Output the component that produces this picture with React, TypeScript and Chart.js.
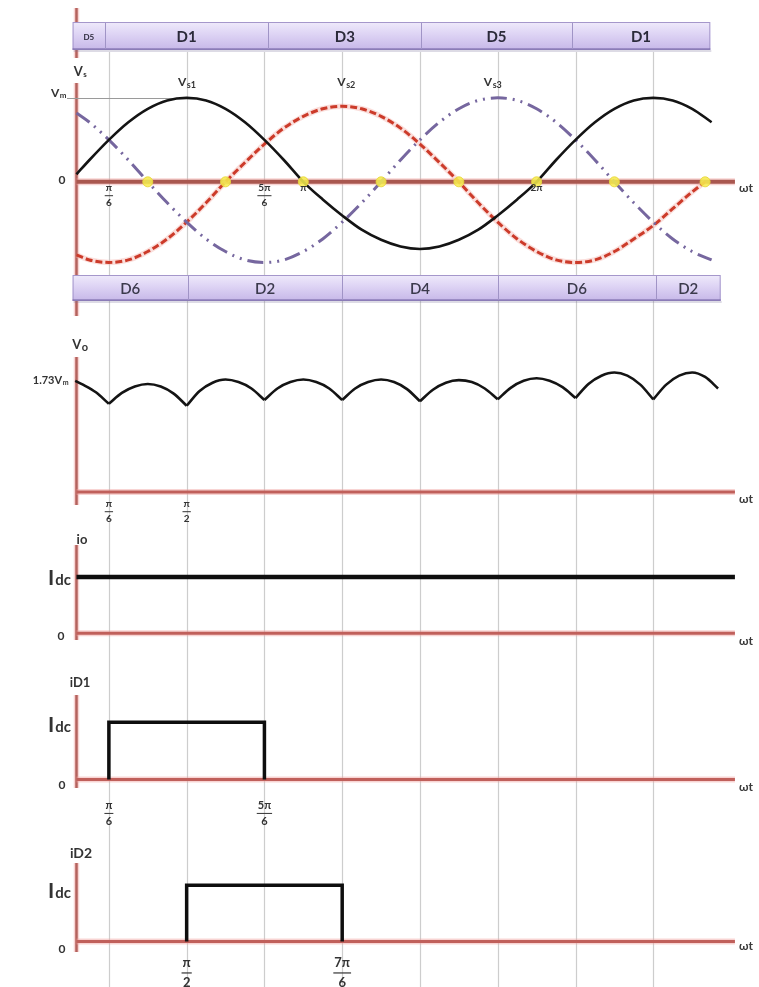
import { useEffect, useRef } from "react";
import { Chart, registerables } from "chart.js";

Chart.register(...registerables);

// ---- ωt sample points (degrees) and waveform values ----
const phaseAngles = [5, 15, 30, 45, 60, 75, 90, 105, 120, 135, 150, 165, 180, 195, 210, 225, 240, 255, 270, 285, 300, 315, 330, 345, 360, 375, 390, 405, 420, 435, 450, 465, 480, 495];
const vs1 = [0.09, 0.26, 0.5, 0.71, 0.87, 0.97, 1.0, 0.97, 0.87, 0.71, 0.5, 0.26, 0.0, -0.21, -0.4, -0.57, -0.69, -0.77, -0.8, -0.77, -0.69, -0.57, -0.4, -0.21, 0.0, 0.26, 0.5, 0.71, 0.87, 0.97, 1.0, 0.97, 0.87, 0.71];
const vs3 = [0.82, 0.71, 0.5, 0.26, 0.0, -0.25, -0.48, -0.68, -0.83, -0.93, -0.96, -0.93, -0.83, -0.68, -0.48, -0.25, 0.0, 0.26, 0.5, 0.71, 0.87, 0.97, 1.0, 0.97, 0.87, 0.71, 0.5, 0.26, 0.0, -0.25, -0.48, -0.68, -0.83, -0.93];
const vs2Angles = [5, 15, 30, 45, 60, 75, 90, 105, 120, 135, 150, 165, 180, 195, 210, 225, 240, 255, 270, 285, 300, 315, 330, 345, 360, 375, 390, 405, 420, 435, 450, 465, 480, 490];
const vs2 = [-0.87, -0.93, -0.96, -0.93, -0.83, -0.68, -0.48, -0.25, 0.0, 0.23, 0.45, 0.64, 0.78, 0.87, 0.9, 0.87, 0.78, 0.64, 0.45, 0.23, 0.0, -0.25, -0.48, -0.68, -0.83, -0.93, -0.96, -0.93, -0.83, -0.68, -0.52, -0.32, -0.12, 0.0];
const zeroCrossings = [60, 120, 180, 240, 300, 360, 420, 490];

// output voltage ripple (multiples of Vm); commutation dips split it into arches
const voAngles = [4, 10, 20, 30, 40, 50, 60, 70, 80, 90, 100, 110, 120, 130, 140, 150, 160, 170, 180, 190, 200, 210, 220, 230, 240, 250, 260, 270, 280, 290, 300, 310, 320, 330, 340, 350, 360, 370, 380, 390, 400, 410, 420, 430, 440, 450, 460, 470, 480, 490, 500];
const vo = [1.74, 1.68, 1.56, 1.38, 1.55, 1.65, 1.69, 1.65, 1.54, 1.35, 1.58, 1.71, 1.76, 1.72, 1.62, 1.44, 1.62, 1.72, 1.76, 1.72, 1.62, 1.44, 1.62, 1.72, 1.76, 1.72, 1.61, 1.42, 1.6, 1.71, 1.75, 1.72, 1.62, 1.45, 1.63, 1.74, 1.78, 1.74, 1.64, 1.47, 1.69, 1.82, 1.87, 1.82, 1.68, 1.45, 1.68, 1.82, 1.87, 1.8, 1.62];
const voDipAngles = [30, 90, 150, 210, 270, 330, 390, 450];

// currents (multiples of Idc)
const ioAngles = [5, 513];
const io = [1, 1];
const id1Angles = [30, 30, 150, 150];
const id1 = [0, 1, 1, 0];
const id2Angles = [90, 90, 210, 210];
const id2 = [0, 1, 1, 0];

// conduction bands and angle markers
const gridAngles = [30, 90, 150, 210, 270, 330, 390, 450];
const topBandEdges = [2, 27, 153, 271, 387, 494];
const topBandLabels = ["D5", "D1", "D3", "D5", "D1"];
const bottomBandEdges = [2, 91, 210, 330, 452, 502];
const bottomBandLabels = ["D6", "D2", "D4", "D6", "D2"];
const vsTickAngles = [30, 150, 180, 360];
const vsTickLabels = ["π/6", "5π/6", "π", "2π"];
const voTickAngles = [30, 90];
const voTickLabels = ["π/6", "π/2"];
const id1TickAngles = [30, 150];
const id1TickLabels = ["π/6", "5π/6"];
const id2TickAngles = [90, 210];
const id2TickLabels = ["π/2", "7π/6"];

const AXIS_ORIGIN = 5;
const AXIS_END = 513;

// ---- layout ----
const W = 759;
const H = 987;
const FONT = 'Lato, "Open Sans", "DejaVu Sans", sans-serif';
const INK = "#333";

const panels: Record<string, { zero: number; unit: number }> = {
  yVs: { zero: 178, unit: 85 },
  yVo: { zero: 492, unit: 64.7 },
  yIo: { zero: 635, unit: 57 },
  yD1: { zero: 783, unit: 58 },
  yD2: { zero: 947, unit: 57 },
};

const panelScale = (id: string) => ({
  type: "linear" as const,
  display: false,
  min: -(H - panels[id].zero) / panels[id].unit,
  max: panels[id].zero / panels[id].unit,
});

const pts = (xs: number[], ys: number[]) => xs.map((x, i) => ({ x, y: ys[i] }));

// split the ripple into arches so each dip stays a sharp corner
function voArches() {
  const all = pts(voAngles, vo);
  const arches: { x: number; y: number }[][] = [];
  let current: { x: number; y: number }[] = [];
  all.forEach((p) => {
    current.push(p);
    if (voDipAngles.includes(p.x)) {
      arches.push(current);
      current = [p];
    }
  });
  if (current.length > 1) arches.push(current);
  return arches;
}

function strokeLine(ctx: CanvasRenderingContext2D, x1: number, y1: number, x2: number, y2: number) {
  ctx.beginPath();
  ctx.moveTo(x1, y1);
  ctx.lineTo(x2, y2);
  ctx.stroke();
}

function axisLine(ctx: CanvasRenderingContext2D, x1: number, y1: number, x2: number, y2: number, width: number, core: string) {
  ctx.lineCap = "butt";
  ctx.strokeStyle = "rgba(240,160,158,0.45)";
  ctx.lineWidth = width + 3;
  strokeLine(ctx, x1, y1, x2, y2);
  ctx.strokeStyle = core;
  ctx.lineWidth = width;
  strokeLine(ctx, x1, y1, x2, y2);
}

function subText(ctx: CanvasRenderingContext2D, x: number, y: number, main: string, sub: string, size: number, align: "left" | "center" | "right" = "center", subScale = 0.65) {
  ctx.textBaseline = "middle";
  ctx.textAlign = "left";
  ctx.fillStyle = INK;
  const mainFont = `bold ${size}px ${FONT}`;
  const subFont = `bold ${Math.round(size * subScale)}px ${FONT}`;
  ctx.font = mainFont;
  const w1 = ctx.measureText(main).width;
  ctx.font = subFont;
  const w2 = ctx.measureText(sub).width;
  const start = align === "center" ? x - (w1 + w2) / 2 : align === "right" ? x - (w1 + w2) : x;
  ctx.font = mainFont;
  ctx.fillText(main, start, y);
  ctx.font = subFont;
  ctx.fillText(sub, start + w1 + 0.5, y + size * 0.22);
}

function plainText(ctx: CanvasRenderingContext2D, x: number, y: number, text: string, size: number, align: CanvasTextAlign = "center", weight = "bold") {
  ctx.font = `${weight} ${size}px ${FONT}`;
  ctx.textAlign = align;
  ctx.textBaseline = "middle";
  ctx.fillStyle = INK;
  ctx.fillText(text, x, y);
}

function fraction(ctx: CanvasRenderingContext2D, x: number, cy: number, label: string, size: number) {
  const [num, den] = label.split("/");
  ctx.font = `bold ${size}px ${FONT}`;
  ctx.textAlign = "center";
  ctx.textBaseline = "middle";
  ctx.fillStyle = INK;
  ctx.fillText(num, x, cy);
  if (den) {
    const w = Math.max(ctx.measureText(num).width, ctx.measureText(den).width) + 2;
    ctx.fillRect(x - w / 2, cy + size * 0.72, w, Math.max(1, size / 11));
    ctx.fillText(den, x, cy + size * 1.5);
  }
}

function idcLabel(ctx: CanvasRenderingContext2D, right: number, cy: number) {
  ctx.textBaseline = "middle";
  ctx.textAlign = "left";
  ctx.fillStyle = INK;
  ctx.font = `bold 15px ${FONT}`;
  const wd = ctx.measureText("dc").width;
  ctx.font = `bold 21px ${FONT}`;
  const wi = ctx.measureText("I").width;
  const start = right - wd - wi - 1;
  ctx.fillText("I", start, cy);
  ctx.font = `bold 15px ${FONT}`;
  ctx.fillText("dc", start + wi + 1, cy + 2);
}

function band(ctx: CanvasRenderingContext2D, xs: any, edges: number[], labels: string[], top: number, bottom: number, heavy: boolean) {
  const left = xs.getPixelForValue(edges[0]);
  const right = xs.getPixelForValue(edges[edges.length - 1]);
  ctx.fillStyle = "rgba(120,110,150,0.25)";
  ctx.fillRect(left + 1, bottom, right - left, 2);
  const g = ctx.createLinearGradient(0, top, 0, bottom);
  g.addColorStop(0, "#efeafb");
  g.addColorStop(0.45, "#ddd3f4");
  g.addColorStop(1, "#c6b7e8");
  ctx.fillStyle = g;
  ctx.fillRect(left, top, right - left, bottom - top);
  ctx.strokeStyle = "#a597cb";
  ctx.lineWidth = 1;
  ctx.strokeRect(left + 0.5, top + 0.5, right - left - 1, bottom - top - 1);
  ctx.fillStyle = "rgba(118,102,168,0.55)";
  ctx.fillRect(left, bottom - 2, right - left, 2);
  ctx.strokeStyle = "#a094c6";
  for (let i = 1; i < edges.length - 1; i++) {
    const px = Math.round(xs.getPixelForValue(edges[i])) + 0.5;
    strokeLine(ctx, px, top + 1, px, bottom - 1);
  }
  const cy = (top + bottom) / 2;
  labels.forEach((lab, i) => {
    const a = xs.getPixelForValue(edges[i]);
    const b = xs.getPixelForValue(edges[i + 1]);
    const small = heavy && b - a < 50;
    ctx.font = `${heavy ? "bold" : "600"} ${small ? 8 : 15}px ${FONT}`;
    ctx.textAlign = "center";
    ctx.textBaseline = "middle";
    ctx.fillStyle = heavy ? "#2b2a3a" : "#3b3a4c";
    ctx.fillText(lab, (a + b) / 2, cy + 1);
  });
}

const diagramPlugin = {
  id: "diagram",
  beforeDatasetsDraw(chart: any) {
    const ctx: CanvasRenderingContext2D = chart.ctx;
    const xs = chart.scales.x;
    ctx.save();

    // angle gridlines through every panel
    ctx.strokeStyle = "#cdcdcd";
    ctx.lineWidth = 1.2;
    gridAngles.forEach((a) => {
      const px = Math.round(xs.getPixelForValue(a)) + 0.5;
      strokeLine(ctx, px, 52, px, H);
    });

    const ax = xs.getPixelForValue(AXIS_ORIGIN);
    const axEnd = xs.getPixelForValue(AXIS_END);

    // vertical axes
    const vSegments: [number, number][] = [
      [8, 58],
      [83, 316],
      [357, 505],
      [545, 640],
      [695, 788],
      [863, 952],
    ];
    vSegments.forEach(([y1, y2]) => axisLine(ctx, ax, y1, ax, y2, 2.5, "#b4625d"));

    // horizontal ωt axes
    Object.keys(panels).forEach((id) => {
      const y = chart.scales[id].getPixelForValue(0);
      axisLine(ctx, ax, y, axEnd, y, id === "yVs" ? 4 : 3, id === "yVs" ? "#a9574f" : "#c0605b");
    });

    // Vm reference line
    const ys = chart.scales.yVs;
    ctx.strokeStyle = "#9a9a9a";
    ctx.lineWidth = 1;
    const ym = Math.round(ys.getPixelForValue(1)) + 0.5;
    strokeLine(ctx, 67, ym, xs.getPixelForValue(90), ym);

    // diode conduction bands
    band(ctx, xs, topBandEdges, topBandLabels, 22, 50, true);
    band(ctx, xs, bottomBandEdges, bottomBandLabels, 275, 301, false);
    ctx.restore();
  },
  afterDatasetsDraw(chart: any) {
    const ctx: CanvasRenderingContext2D = chart.ctx;
    const xs = chart.scales.x;
    ctx.save();

    // phase-voltage panel
    subText(ctx, 80, 72, "V", "s", 13);
    subText(ctx, 66, 93, "V", "m", 12, "right");
    subText(ctx, xs.getPixelForValue(90), 82, "V", "s1", 12, "center", 0.72);
    subText(ctx, xs.getPixelForValue(213), 82, "V", "s2", 12, "center", 0.72);
    subText(ctx, xs.getPixelForValue(326), 82, "V", "s3", 12, "center", 0.72);
    plainText(ctx, 62, 180, "0", 12);
    vsTickAngles.forEach((a, i) => fraction(ctx, xs.getPixelForValue(a), 188, vsTickLabels[i], 10));

    // output voltage panel
    subText(ctx, 80, 345, "V", "o", 13, "center", 0.85);
    subText(ctx, 68, 380, "1.73V", "m", 11, "right");
    voTickAngles.forEach((a, i) => fraction(ctx, xs.getPixelForValue(a), 504, voTickLabels[i], 10));

    // output current panel
    plainText(ctx, 82, 540, "io", 13);
    idcLabel(ctx, 71, 578);
    plainText(ctx, 61, 636, "0", 12);

    // diode currents
    plainText(ctx, 80, 683, "iD1", 13);
    idcLabel(ctx, 71, 725);
    plainText(ctx, 62, 785, "0", 12);
    id1TickAngles.forEach((a, i) => fraction(ctx, xs.getPixelForValue(a), 805, id1TickLabels[i], 11));

    plainText(ctx, 81, 853, "iD2", 14);
    idcLabel(ctx, 71, 891);
    plainText(ctx, 62, 949, "0", 12);
    id2TickAngles.forEach((a, i) => fraction(ctx, xs.getPixelForValue(a), 963, id2TickLabels[i], 13));

    // ωt labels at the end of each axis
    const ends: [string, number][] = [["yVs", 6], ["yVo", 7], ["yIo", 8], ["yD1", 8], ["yD2", 5]];
    ends.forEach(([id, dy]) => {
      const y = chart.scales[id].getPixelForValue(0) + dy;
      ctx.font = `bold 12px ${FONT}`;
      ctx.textAlign = "left";
      ctx.textBaseline = "middle";
      ctx.fillStyle = "#3a3a3a";
      ctx.fillText("ωt", 739, y);
    });
    ctx.restore();
  },
};

export default function App() {
  const ref = useRef<HTMLCanvasElement>(null);

  useEffect(() => {
    const canvas = ref.current;
    if (!canvas) return;
    const archSets = voArches().map((arch, i) => ({
      label: `Vo ${i + 1}`,
      data: arch,
      yAxisID: "yVo",
      borderColor: "#141414",
      borderWidth: 2.6,
      cubicInterpolationMode: "monotone",
    }));
    const chart = new Chart(canvas, {
      type: "line",
      data: {
        datasets: [
          {
            label: "zero crossings",
            data: zeroCrossings.map((a) => ({ x: a, y: 0 })),
            yAxisID: "yVs",
            showLine: false,
            pointRadius: 5,
            pointBackgroundColor: "rgba(247,238,78,0.85)",
            pointBorderColor: "rgba(232,214,60,0.9)",
            pointBorderWidth: 1,
          },
          {
            label: "Vs1",
            data: pts(phaseAngles, vs1),
            yAxisID: "yVs",
            borderColor: "#141414",
            borderWidth: 2.6,
            cubicInterpolationMode: "monotone",
          },
          {
            label: "Vs3",
            data: pts(phaseAngles, vs3),
            yAxisID: "yVs",
            borderColor: "#76679f",
            borderWidth: 3,
            borderDash: [16, 6, 2, 6, 2, 6],
            cubicInterpolationMode: "monotone",
          },
          {
            label: "Vs2",
            data: pts(vs2Angles, vs2),
            yAxisID: "yVs",
            borderColor: "#cc3b2a",
            borderWidth: 3,
            borderDash: [7, 3],
            cubicInterpolationMode: "monotone",
          },
          {
            label: "Vs2 halo",
            data: pts(vs2Angles, vs2),
            yAxisID: "yVs",
            borderColor: "rgba(242,172,166,0.4)",
            borderWidth: 5.5,
            cubicInterpolationMode: "monotone",
          },
          ...archSets,
          {
            label: "io",
            data: pts(ioAngles, io),
            yAxisID: "yIo",
            borderColor: "#0e0e0e",
            borderWidth: 4.5,
          },
          {
            label: "iD1",
            data: pts(id1Angles, id1),
            yAxisID: "yD1",
            borderColor: "#0e0e0e",
            borderWidth: 3.5,
            borderJoinStyle: "miter",
          },
          {
            label: "iD2",
            data: pts(id2Angles, id2),
            yAxisID: "yD2",
            borderColor: "#0e0e0e",
            borderWidth: 3.5,
            borderJoinStyle: "miter",
          },
        ],
      },
      options: {
        animation: false,
        responsive: false,
        events: [],
        layout: { padding: { left: 70, right: 15, top: 0, bottom: 0 } },
        plugins: { legend: { display: false }, tooltip: { enabled: false } },
        elements: { point: { radius: 0 }, line: { fill: false } },
        scales: {
          x: { type: "linear", min: 0, max: 520, display: false },
          yVs: panelScale("yVs"),
          yVo: panelScale("yVo"),
          yIo: panelScale("yIo"),
          yD1: panelScale("yD1"),
          yD2: panelScale("yD2"),
        },
      },
      plugins: [diagramPlugin],
    } as any);
    return () => chart.destroy();
  }, []);

  return (
    <div style={{ position: "fixed", left: 0, top: 0, width: W, height: H, background: "#fff" }}>
      <canvas ref={ref} width={W} height={H} style={{ display: "block", width: W, height: H }} />
    </div>
  );
}
